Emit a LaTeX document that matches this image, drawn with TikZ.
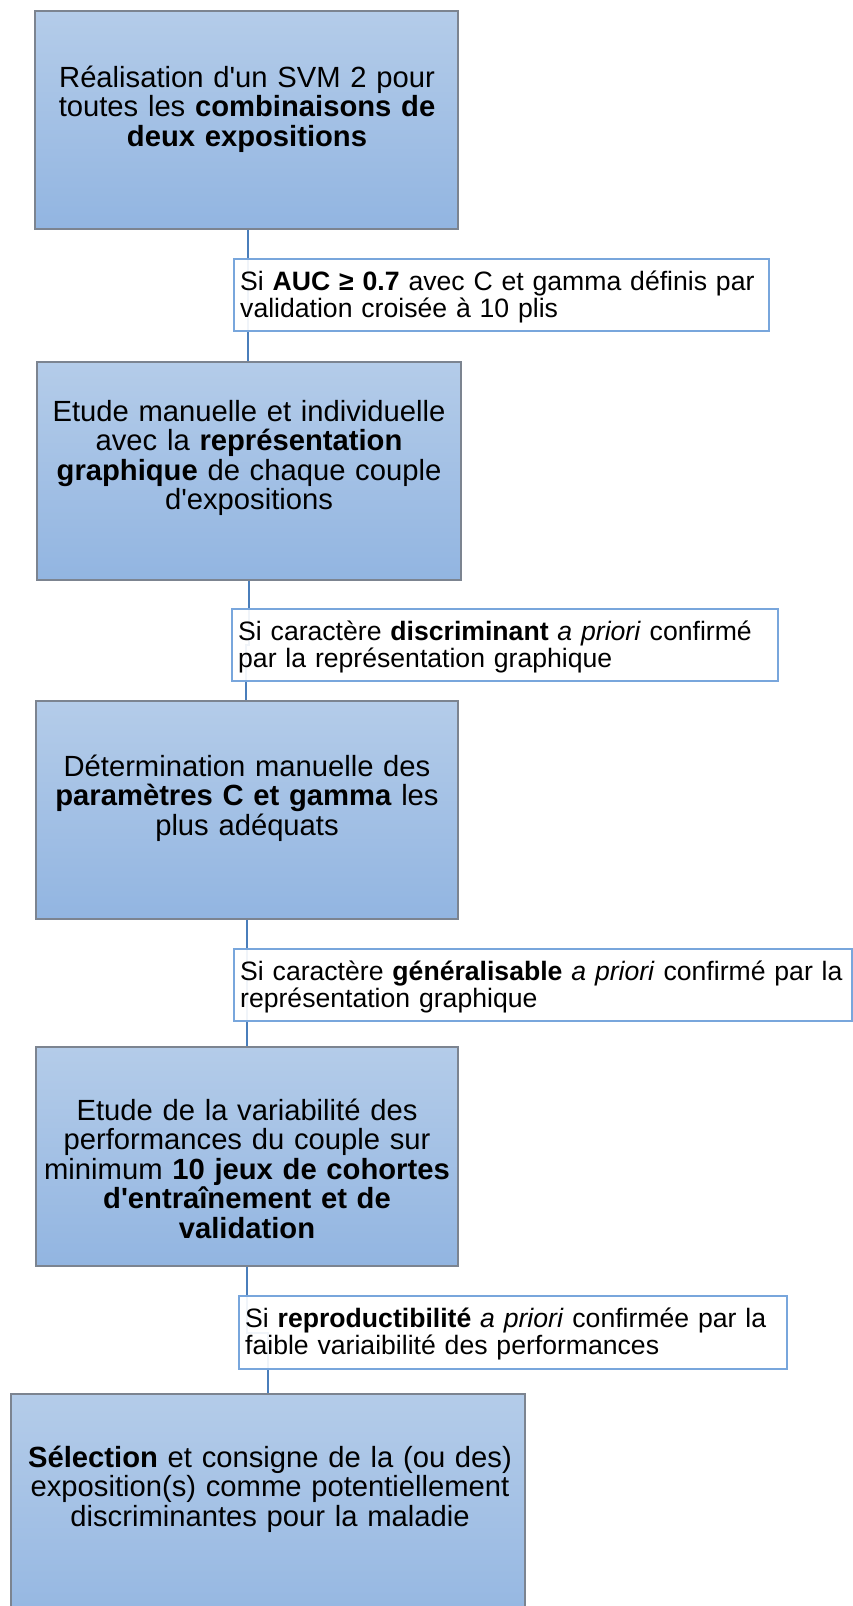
\documentclass[tikz,border=0pt]{standalone}
\usepackage{fontspec}
\setmainfont{Liberation Sans}
\newcommand\straightq{\XeTeXglyph\XeTeXcharglyph"27\relax}
\definecolor{linkcol}{HTML}{4A7EBB}
\definecolor{lblborder}{HTML}{78A6DC}
\definecolor{boxtop}{HTML}{B4CCE9}
\definecolor{boxbot}{HTML}{92B5E1}
\definecolor{boxborder}{HTML}{7C8490}
\tikzset{
 stepbox/.style={draw=boxborder, line width=1.3pt, top color=boxtop, bottom color=boxbot, inner sep=0pt},
 condbox/.style={draw=lblborder, line width=1.3pt, fill=white, fill opacity=0.92, inner sep=0pt},
 boxtext/.style={font=\fontsize{29.2}{29.5}\selectfont, text width=500pt, align=center, anchor=base, inner sep=0pt},
 condtext/.style={font=\fontsize{26.6}{27.4}\selectfont, text width=640pt, align=left, anchor=base west, inner sep=0pt},
 link/.style={draw=linkcol, line width=2pt},
}
\begin{document}
\lineskiplimit=-20pt
\begin{tikzpicture}[x=1pt,y=-1pt]
\useasboundingbox (0,0) rectangle (853,1606);
\clip (0,0) rectangle (853,1606);
% step boxes
\node[stepbox, minimum width=423pt, minimum height=218pt] (b1) at (246.5,120) {};
\node[stepbox, minimum width=424pt, minimum height=218pt] (b2) at (249,471) {};
\node[stepbox, minimum width=422pt, minimum height=218pt] (b3) at (247,810) {};
\node[stepbox, minimum width=422pt, minimum height=219pt] (b4) at (247,1156.5) {};
\node[stepbox, minimum width=514pt, minimum height=246pt] (b5) at (268,1517) {};
% label mid heights
\coordinate (m2) at (0,645);
\coordinate (m4) at (0,1332.5);
% connectors
\draw[link] ([xshift=1.5pt]b1.south) -- ([xshift=-1pt]b2.north);
\draw[link] (b2.south) -- (b2.south |- m2) -- ([xshift=-1pt]b3.north |- m2) -- ([xshift=-1pt]b3.north);
\draw[link] (b3.south) -- (b4.north);
\draw[link] (b4.south) -- (b4.south |- m4) -- (b5.north |- m4) -- (b5.north);
% condition boxes
\node[condbox, minimum width=535pt, minimum height=72pt] (l1) at (501.5,295) {};
\node[condbox, minimum width=546pt, minimum height=72pt] (l2) at (505,645) {};
\node[condbox, minimum width=618pt, minimum height=72pt] (l3) at (543,985) {};
\node[condbox, minimum width=548pt, minimum height=73pt] (l4) at (513,1332.5) {};
% step texts
\node[boxtext] (t1) at (247,87) {Réalisation d\straightq un SVM 2 pour\\ toutes les \textbf{combinaisons de}\\ \textbf{deux expositions}};
\node[boxtext] (t2) at (249,421) {Etude manuelle et individuelle\\ avec la \textbf{représentation}\\ \textbf{graphique} de chaque couple\\ d\straightq expositions};
\node[boxtext] (t3) at (247,776) {Détermination manuelle des\\ \textbf{paramètres C et gamma} les\\ plus adéquats};
\node[boxtext] (t4) at (247,1120) {Etude de la variabilité des\\ performances du couple sur\\ minimum \textbf{10 jeux de cohortes}\\ \textbf{d\straightq entraînement et de}\\ \textbf{validation}};
\node[boxtext] (t5) at (270,1467) {\textbf{Sélection} et consigne de la (ou des)\\ exposition(s) comme potentiellement\\ discriminantes pour la maladie};
% condition texts
\node[condtext] (c1) at (240,290) {Si \textbf{AUC ≥ 0.7} avec C et gamma définis par\\ validation croisée à 10 plis};
\node[condtext] (c2) at (238,640) {Si caractère \textbf{discriminant} \textit{a priori} confirmé\\ par la représentation graphique};
\node[condtext] (c3) at (240,980) {Si caractère \textbf{généralisable} \textit{a priori} confirmé par la\\ représentation graphique};
\node[condtext] (c4) at (245,1327) {Si \textbf{reproductibilité} \textit{a priori} confirmée par la\\ faible variaibilité des performances};
\end{tikzpicture}
\end{document}
